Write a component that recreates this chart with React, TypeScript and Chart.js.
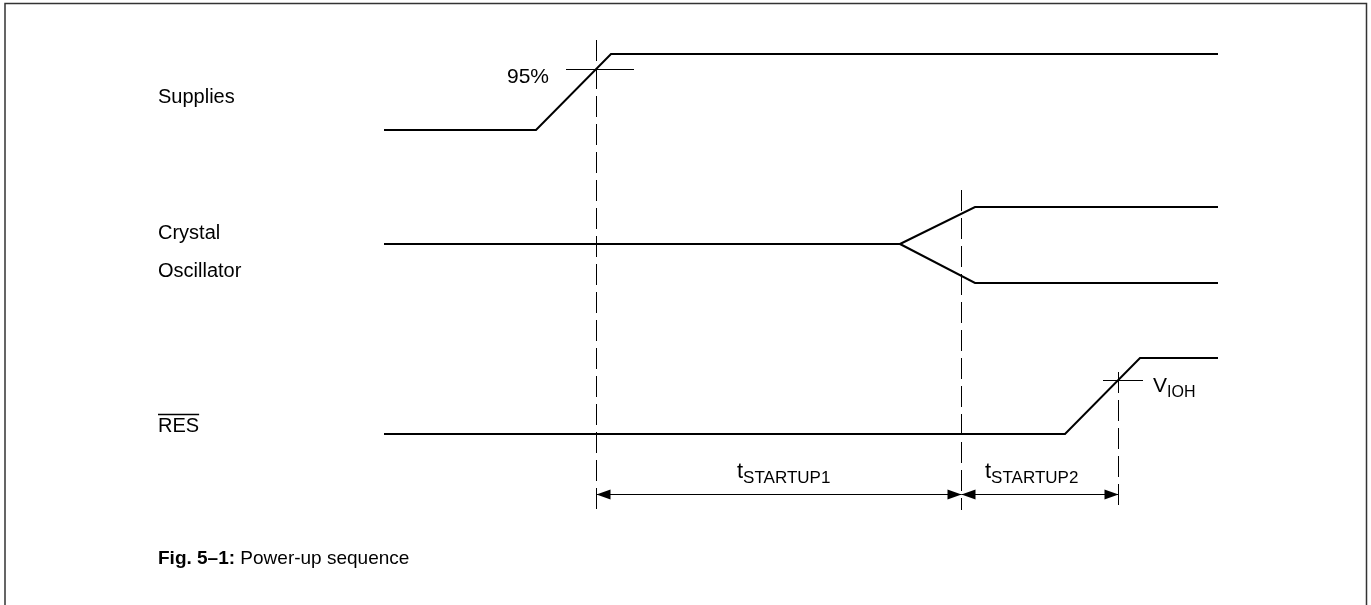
import React, { useEffect, useRef } from "react";
import { Chart, registerables } from "chart.js";

Chart.register(...registerables);

const FONT = "'Liberation Sans', Arial, Helvetica, sans-serif";

// Time axis in arbitrary units (t = 0 at the start of the traces); level axis in drawing units
const SUPPLY_T = [0, 152, 227, 834];
const SUPPLY_L = [130, 130, 54, 54];
const OSC_MID_T = [0, 516];
const OSC_MID_L = [244, 244];
const OSC_UP_T = [516, 591, 834];
const OSC_UP_L = [244, 207, 207];
const OSC_LO_T = [516, 591, 834];
const OSC_LO_L = [244, 283, 283];
const RES_T = [0, 681, 756, 834];
const RES_L = [434, 434, 358, 358];

// Timing markers: 95% supply, oscillator stable, V_IOH reached
const MARK_T = [212.5, 577.5, 734.5];
const MARK_TOP = [40, 190, 372];
const MARK_BOTTOM = [510, 510, 507];

// Threshold crosshairs
const CROSS_95_T = [182, 250];
const CROSS_95_L = 69.5;
const CROSS_VIOH_T = [719, 759];
const CROSS_VIOH_L = 380.5;

// Dimension arrows
const ARROW_L = 494.5;
const ARROW_SPANS = [
  [212.5, 577.5],
  [577.5, 734.5],
];

const SIGNAL_LABELS = [["Supplies"], ["Crystal", "Oscillator"], ["RES"]];
const SIGNAL_LABEL_L = [[103], [239, 277], [432]];
const LABEL_T = -226;

const pts = (t: number[], l: number[]) => t.map((x, i) => ({ x, y: l[i] }));

function drawSub(
  ctx: CanvasRenderingContext2D,
  main: string,
  sub: string,
  x: number,
  y: number,
  mainSize: number,
  subSize: number,
  drop: number
) {
  ctx.textAlign = "left";
  ctx.textBaseline = "alphabetic";
  ctx.font = `${mainSize}px ${FONT}`;
  ctx.fillText(main, x, y);
  const w = ctx.measureText(main).width;
  ctx.font = `${subSize}px ${FONT}`;
  ctx.fillText(sub, x + w, y + drop);
}

const annotations = {
  id: "annotations",
  afterDraw(chart: any) {
    const ctx: CanvasRenderingContext2D = chart.ctx;
    const xs = chart.scales.x;
    const ys = chart.scales.y;
    const px = (t: number) => xs.getPixelForValue(t);
    const py = (l: number) => ys.getPixelForValue(l);
    ctx.save();

    // frame
    ctx.strokeStyle = "#333";
    ctx.lineWidth = 1.5;
    ctx.beginPath();
    ctx.moveTo(5, 605);
    ctx.lineTo(5, 3.5);
    ctx.lineTo(1366.5, 3.5);
    ctx.lineTo(1366.5, 605);
    ctx.stroke();

    // arrow heads
    ctx.fillStyle = "#000";
    ctx.strokeStyle = "#000";
    const head = (x: number, y: number, dir: number) => {
      ctx.beginPath();
      ctx.moveTo(x, y);
      ctx.lineTo(x + dir * 14, y - 5);
      ctx.lineTo(x + dir * 14, y + 5);
      ctx.closePath();
      ctx.fill();
    };
    ARROW_SPANS.forEach(([a, b]) => {
      head(px(a), py(ARROW_L), 1);
      head(px(b), py(ARROW_L), -1);
    });

    // signal labels
    ctx.textAlign = "left";
    ctx.textBaseline = "alphabetic";
    ctx.font = `20px ${FONT}`;
    SIGNAL_LABELS.forEach((lines, i) => {
      lines.forEach((s, j) => {
        ctx.fillText(s, px(LABEL_T), py(SIGNAL_LABEL_L[i][j]));
      });
    });
    // overline on RES
    const resW = ctx.measureText("RES").width;
    ctx.lineWidth = 1.5;
    ctx.beginPath();
    ctx.moveTo(px(LABEL_T), py(414.5));
    ctx.lineTo(px(LABEL_T) + resW, py(414.5));
    ctx.stroke();

    // 95%
    ctx.font = `21px ${FONT}`;
    ctx.textAlign = "right";
    ctx.fillText("95%", px(165), py(83));

    // V_IOH
    drawSub(ctx, "V", "IOH", px(769), py(392), 21, 16, 5);

    // t_STARTUP labels
    drawSub(ctx, "t", "STARTUP1", px(353), py(478), 22, 17, 5);
    drawSub(ctx, "t", "STARTUP2", px(601), py(478), 22, 17, 5);

    // caption
    ctx.textAlign = "left";
    ctx.font = `bold 19px ${FONT}`;
    const cap = "Fig. 5–1:";
    ctx.fillText(cap, px(LABEL_T), py(564));
    const cw = ctx.measureText(cap + " ").width;
    ctx.font = `19px ${FONT}`;
    ctx.fillText("Power-up sequence", px(LABEL_T) + cw, py(564));

    ctx.restore();
  },
};

export default function App() {
  const ref = useRef<HTMLCanvasElement>(null);
  useEffect(() => {
    if (!ref.current) return;
    const solid = (data: any[], width = 2) => ({
      data,
      showLine: true,
      borderColor: "#000",
      borderWidth: width,
      pointRadius: 0,
      fill: false,
      tension: 0,
    });
    const dashed = (data: any[]) => ({
      ...solid(data, 1),
      borderDash: [21, 7],
    });
    const datasets: any[] = [
      solid(pts(SUPPLY_T, SUPPLY_L)),
      solid(pts(OSC_MID_T, OSC_MID_L)),
      solid(pts(OSC_UP_T, OSC_UP_L)),
      solid(pts(OSC_LO_T, OSC_LO_L)),
      solid(pts(RES_T, RES_L)),
      solid(pts(CROSS_95_T, [CROSS_95_L, CROSS_95_L]), 1),
      solid(pts(CROSS_VIOH_T, [CROSS_VIOH_L, CROSS_VIOH_L]), 1),
      ...MARK_T.map((t, i) => dashed([{ x: t, y: MARK_TOP[i] }, { x: t, y: MARK_BOTTOM[i] }])),
      ...ARROW_SPANS.map(([a, b]) => solid([{ x: a, y: ARROW_L }, { x: b, y: ARROW_L }], 1)),
    ];
    const chart = new Chart(ref.current, {
      type: "scatter",
      data: { datasets },
      options: {
        animation: false,
        responsive: false,
        layout: { padding: 0 },
        plugins: { legend: { display: false }, tooltip: { enabled: false } },
        scales: {
          x: { type: "linear", min: -384, max: 987, display: false },
          y: { type: "linear", min: 0, max: 605, reverse: true, display: false },
        },
      },
      plugins: [annotations],
    });
    return () => chart.destroy();
  }, []);
  return (
    <div style={{ position: "absolute", left: 0, top: 0, width: 1371, height: 605, background: "#fff" }}>
      <canvas ref={ref} width={1371} height={605} style={{ display: "block" }} />
    </div>
  );
}
